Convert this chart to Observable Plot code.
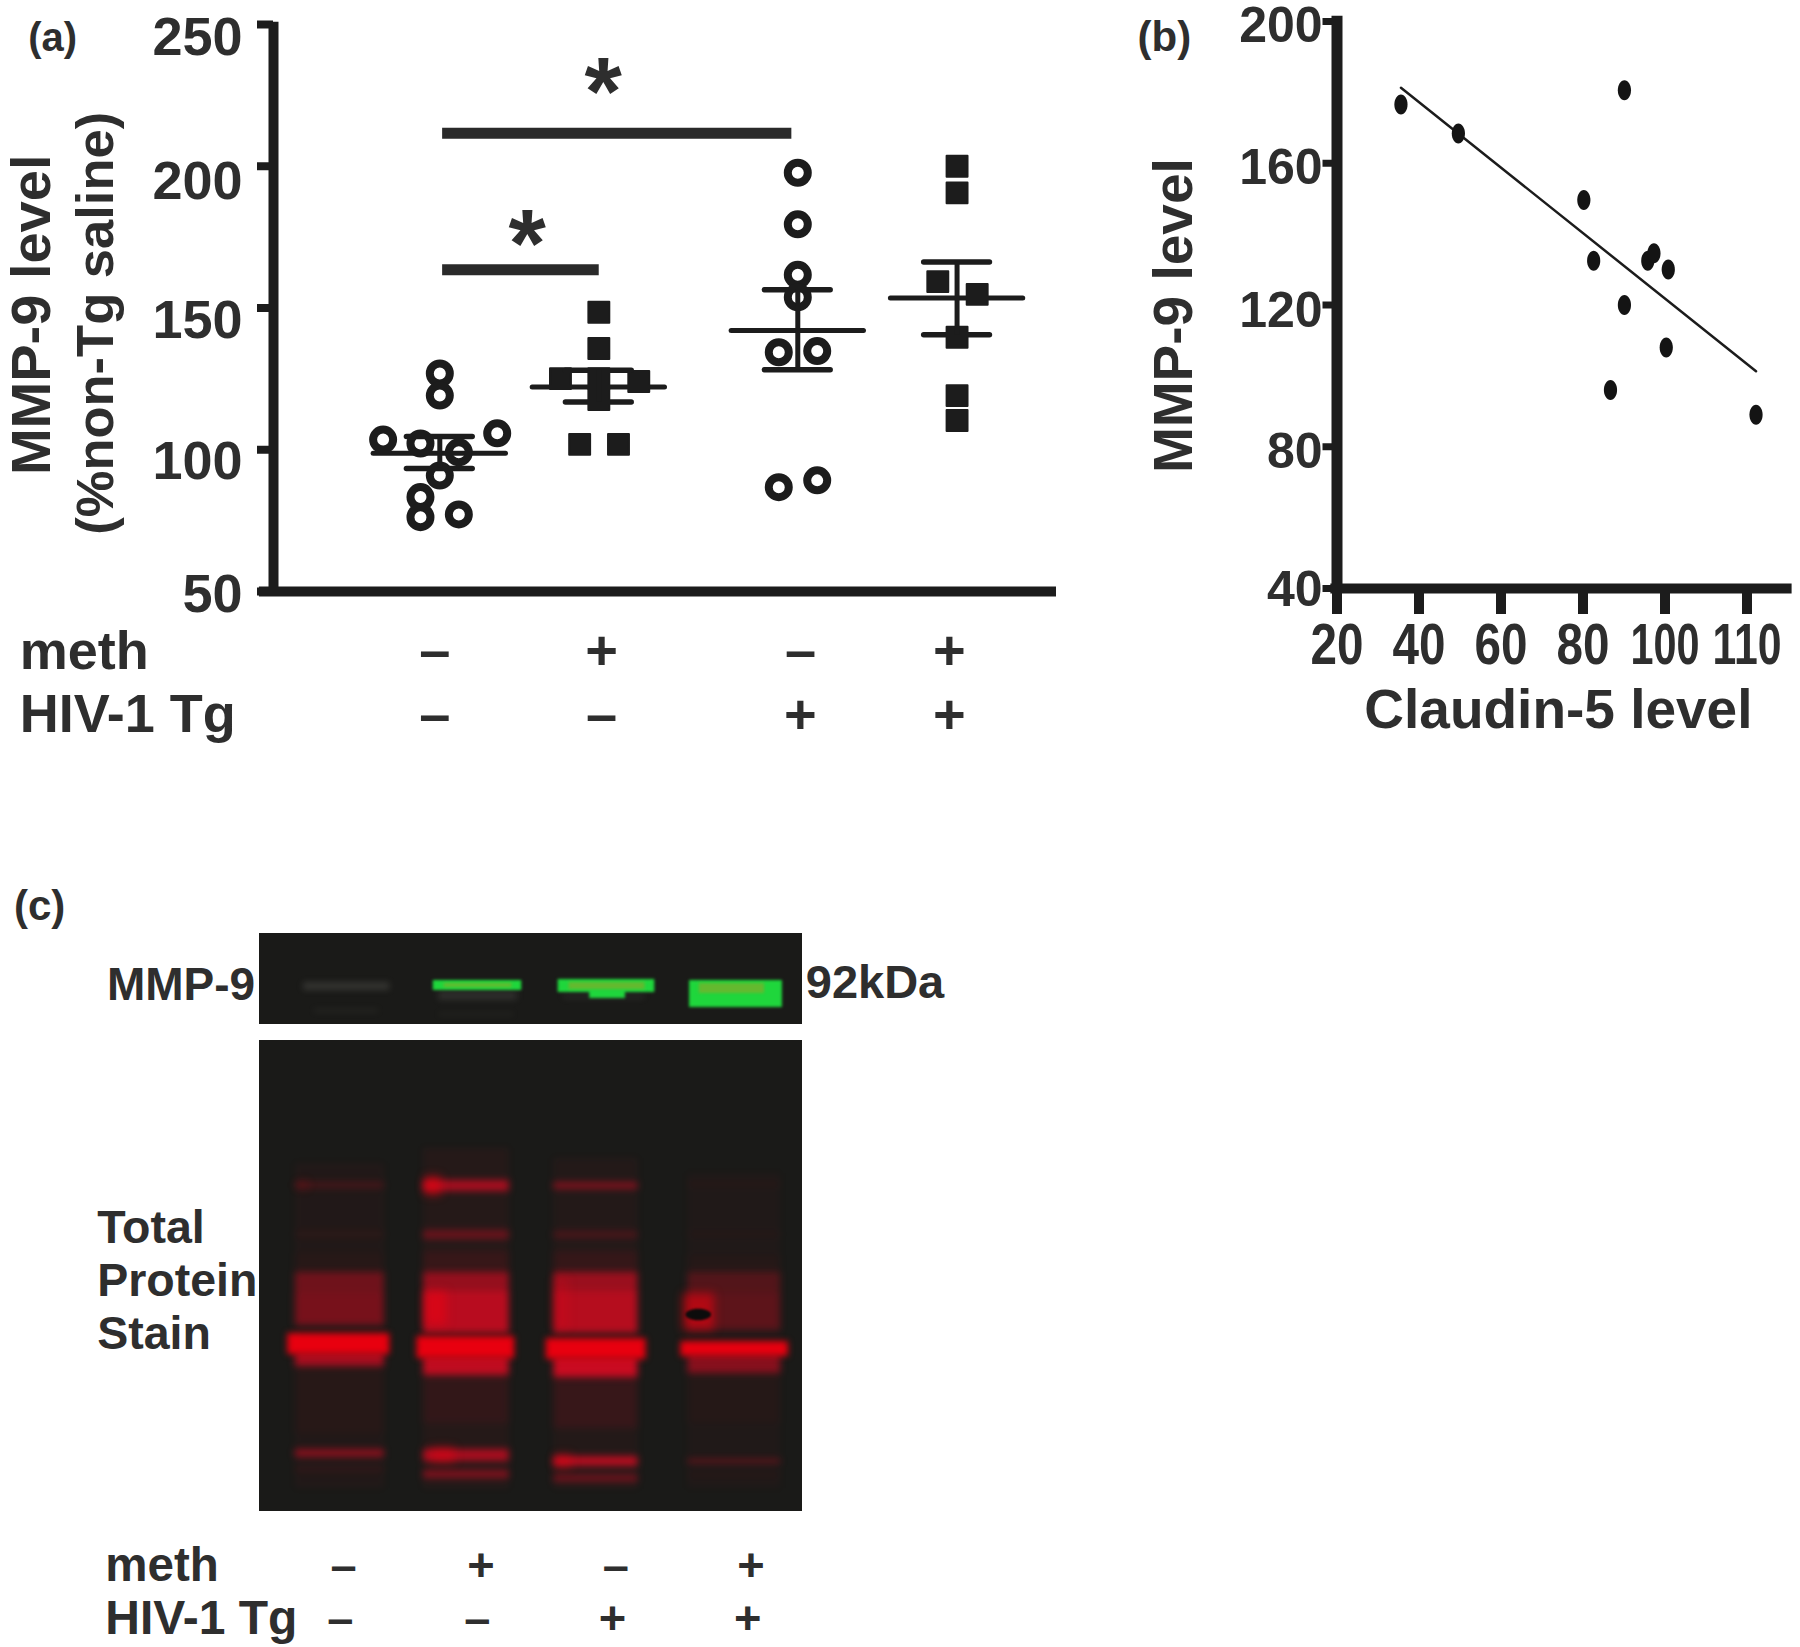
<!DOCTYPE html>
<html><head><meta charset="utf-8">
<script src="https://cdn.jsdelivr.net/npm/d3@7"></script>
<script src="https://cdn.jsdelivr.net/npm/@observablehq/plot@0.6"></script>
<style>
html,body{margin:0;padding:0;background:#fff}
#page{position:relative;width:1800px;height:1647px;overflow:hidden}
#page svg{position:absolute;background:transparent;overflow:visible}
</style></head><body><div id="page"></div>
<script>
// ---- Panel (a) data
const groupCenter = [21.24, 41.55, 66.96, 87.3];
const aNoTgSalineX = [21.24,21.24,14,18.77,28.57,23.67,21.24,18.77,18.77,23.67];
const aNoTgSalineY = [126.9,119.1,103.6,102.2,105.8,99.1,90.9,83.3,76.2,77.2];
const aNoTgMethX = [41.55,41.55,36.65,41.55,46.65,41.55,39.1,44.06];
const aNoTgMethY = [148.5,135.7,125.1,125.1,124.1,117.7,101.9,101.9];
const aTgSalineX = [66.96,66.96,66.96,66.96,64.53,69.44,64.53,69.44];
const aTgSalineY = [197.7,179.5,161.7,153.8,134.4,134.8,86.8,89.2];
const aTgMethX = [87.3,87.3,84.84,89.87,87.3,87.3,87.3];
const aTgMethY = [200,190.6,159.3,154.8,139.7,119.1,110.3];
const aMean = [98.8,122.1,142.1,153.5];
const aUpper = [104.7,128,156.4,166.2];
const aLower = [93.4,116.8,128.2,140.6];
const sigStart = [21.6,21.6];
const sigEnd = [66.2,41.6];
const sigLevel = [211.6,163.5];
const aYTicks = [50,100,150,200,250];
const aYLabelAt = [49,95.9,145.6,194.6,245.3];
const aMethRow = ["–","+","–","+"];
const aTgRow = ["–","–","+","+"];
const aRowX = [20.6,41.9,67.3,86.3];

// ---- Panel (b) data
const bClaudin = [35.6,49.6,90.1,80.2,82.6,90.1,95.8,97.3,100.8,100.3,86.7,122.2];
const bMMP9 = [176.6,168.4,180.6,149.6,132.5,120,132.5,134.6,130,108,96,89];
const bFitX = [35.6,122.2];
const bFitY = [181.3,101.3];
const bXTicks = [20,40,60,80,100,120];
const bXLabels = ["20","40","60","80","100","110"];
const bYTicks = [40,80,120,160,200];
const bYLabelAt = [39.6,78.6,118.4,158.6,198.8];

// ---- Panel (c) data: lanes, band rows, per-lane intensity
const laneStart = [6.6,30.2,54.2,78.9];
const laneEnd = [23,46,69.7,96];
const mainStart = [5.2,29,52.8,77.6];
const mainEnd = [24,47,71.2,97.4];
const mainTop = [400,403,405,408];
const mainBottom = [421,425,426,423];
const bandRows = [
  {top:[230,215,225,240], bottom:[555,555,555,555], level:[.04,.06,.05,.03]},
  {top:[249,247,249,249], bottom:[255,258,256,253], level:[.2,.72,.5,.05]},
  {top:[298,297,298,298], bottom:[304,306,305,304], level:[.06,.38,.22,.03]},
  {top:[320,318,318,322], bottom:[339,339,339,339], level:[.03,.1,.1,.03]},
  {top:[339,339,339,339], bottom:[392,400,400,397], level:[.42,.62,.65,.27]},
  {top:[360,358,358,360], bottom:[392,400,400,397], level:[.08,.5,.42,.08]},
  {top:[418,422,423,420], bottom:[433,442,444,440], level:[.72,.85,.9,.55]},
  {top:[433,442,444,440], bottom:[500,490,495,490], level:[.03,.08,.11,.03]},
  {top:[516,516,523,526], bottom:[524,528,533,530], level:[.55,.72,.8,.38]},
  {top:[534,537,541,540], bottom:[538,545,549,544], level:[.1,.5,.38,.05]}
];
const hotStart = [30.5,30.6,31.5,54.2,78,54.5,7];
const hotEnd = [33.5,34.5,36,57,83.8,57.5,9];
const hotTop = [243,358,514,345,360,521,248];
const hotBottom = [262,392,530,395,397,535,256];
const hotLevel = [.55,.5,.4,.18,.55,.35,.18];
const greenStart = [32,55,79.2,60.8];
const greenEnd = [48.3,72.8,96.3,67.4];
const greenTop = [47,46,47,57];
const greenBottom = [57,59,74,65];
const coreStart = [34,57,81];
const coreEnd = [46.5,71,93];
const coreTop = [50,49,50];
const coreBottom = [54,56,60];
const faintStart = [8.1,33,10,33,56];
const faintEnd = [24,47.5,22,47,71];
const faintTop = [49,58,75,79,60];
const faintBottom = [57,67,80,83,66];
const faintLevel = [.18,.14,.06,.05,.08];
const holeX = [80.8];
const holeY = [381];
const cMethRow = ["–","+","–","+"];
const cTgRow = ["–","–","+","+"];
const cMethX = [15.5,40.8,65.6,90.5];
const cTgX = [14.9,40.1,65.0,89.9];
const frameTop = [0,107];
const frameBottom = [91,578];

// ---- helpers / tables
const zip = (xs, ys) => xs.map((x, i) => ({x, y: ys[i]}));
const ink = "#1c1c1c", txt = "#2e2e2e";
const sans = "'Liberation Sans', Arial, sans-serif";
const circles = [...zip(aNoTgSalineX, aNoTgSalineY), ...zip(aTgSalineX, aTgSalineY)];
const squares = [...zip(aNoTgMethX, aNoTgMethY), ...zip(aTgMethX, aTgMethY)];
const idx = groupCenter.map((c, i) => i);
const place = (el, left, top) => { el.style.left = left + "px"; el.style.top = top + "px"; document.getElementById("page").appendChild(el); };
const base = {fontFamily: sans, fontWeight: "bold", color: txt};
const label = (t, x, y, size, extra = {}) => Plot.text([t], {x: () => x, y: () => y, text: d => d, fontSize: size, fill: txt, fontFamily: sans, fontWeight: "bold", ...extra});
const oval = (wide, tall) => ({
  draw(ctx, size) {
    const r = Math.sqrt(size / Math.PI), ry = r * tall, rx = r * wide, k = 0.5523;
    ctx.moveTo(0, -ry);
    ctx.bezierCurveTo(k * rx, -ry, rx, -k * ry, rx, 0);
    ctx.bezierCurveTo(rx, k * ry, k * rx, ry, 0, ry);
    ctx.bezierCurveTo(-k * rx, ry, -rx, k * ry, -rx, 0);
    ctx.bezierCurveTo(-rx, -k * ry, -k * rx, -ry, 0, -ry);
    ctx.closePath();
  }
});

// ---- Panel (a)
const a = Plot.plot({
  width: 1100, height: 760, marginLeft: 273, marginRight: 44, marginTop: 24, marginBottom: 169,
  x: {domain: [0, 100], axis: null},
  y: {domain: [50, 250], axis: null},
  style: base,
  marks: [
    Plot.axisY(aYTicks, {anchor: "left", tickSize: 16, tickFormat: () => "", strokeWidth: 8, stroke: ink, label: null}),
    Plot.text(aYTicks, {x: () => -3.96, y: (d, i) => aYLabelAt[i], text: d => `${d}`, textAnchor: "end", fontSize: 54, fill: txt, fontFamily: sans, fontWeight: "bold"}),
    Plot.ruleX([0], {y1: 50, y2: 250.8, stroke: ink, strokeWidth: 10}),
    Plot.ruleY([50], {x1: -1.8, x2: 100, stroke: ink, strokeWidth: 10}),
    Plot.dot(circles, {x: "x", y: "y", r: 10, stroke: ink, strokeWidth: 8, fill: "none"}),
    Plot.dot(squares, {x: "x", y: "y", r: 11.8, symbol: "square", fill: ink, stroke: ink, strokeWidth: 2, strokeLinejoin: "round"}),
    Plot.ruleY(idx, {y: i => aMean[i], x1: i => groupCenter[i] - 8.45, x2: i => groupCenter[i] + 8.45, stroke: ink, strokeWidth: 5, strokeLinecap: "round"}),
    Plot.ruleY(idx, {y: i => aUpper[i], x1: i => groupCenter[i] - 4.2, x2: i => groupCenter[i] + 4.2, stroke: ink, strokeWidth: 5.5, strokeLinecap: "round"}),
    Plot.ruleY(idx, {y: i => aLower[i], x1: i => groupCenter[i] - 4.2, x2: i => groupCenter[i] + 4.2, stroke: ink, strokeWidth: 5.5, strokeLinecap: "round"}),
    Plot.ruleX(idx, {x: i => groupCenter[i], y1: i => aLower[i], y2: i => aUpper[i], stroke: ink, strokeWidth: 5}),
    Plot.ruleY([0, 1], {y: i => sigLevel[i], x1: i => sigStart[i], x2: i => sigEnd[i], stroke: "#2a2a2a", strokeWidth: 11}),
    label("*", 32.4, 172, 96, {lineAnchor: "middle"}),
    label("*", 42.1, 225.6, 96, {lineAnchor: "middle"}),
    label("(a)", -28.2, 245, 40),
    label("MMP-9 level", -30.8, 147.6, 56, {rotate: -90}),
    label("(%non-Tg saline)", -22.6, 144.6, 52.5, {rotate: -90}),
    label("meth", -32.4, 28.7, 54, {textAnchor: "start"}),
    label("HIV-1 Tg", -32.4, 6.7, 54, {textAnchor: "start"}),
    Plot.text(aMethRow, {x: (d, i) => aRowX[i], y: () => 28.9, text: d => d, fontSize: 56, fill: txt, fontFamily: sans, fontWeight: "bold"}),
    Plot.text(aTgRow, {x: (d, i) => aRowX[i], y: () => 6.5, text: d => d, fontSize: 56, fill: txt, fontFamily: sans, fontWeight: "bold"})
  ]
});
place(a, 0, 0);

// ---- Panel (b)
const b = Plot.plot({
  width: 670, height: 760, marginLeft: 206.5, marginRight: 53.5, marginTop: 21, marginBottom: 172,
  x: {domain: [20, 120], axis: null},
  y: {domain: [40, 200], axis: null},
  style: base,
  marks: [
    Plot.axisY(bYTicks, {anchor: "left", tickSize: 14, tickFormat: () => "", strokeWidth: 7, stroke: ink, label: null}),
    Plot.text(bYTicks, {x: () => 16.5, y: (d, i) => bYLabelAt[i], text: d => `${d}`, textAnchor: "end", fontSize: 50, fill: txt, fontFamily: sans, fontWeight: "bold"}),
    Plot.axisX(bXTicks, {anchor: "bottom", tickSize: 26, tickPadding: 8, fontSize: 58, strokeWidth: 10, stroke: ink, label: null, fill: txt, fontWeight: "bold", tickFormat: d => bXLabels[bXTicks.indexOf(d)]}),
    Plot.ruleX([20], {y1: 40, y2: 201.5, stroke: ink, strokeWidth: 11}),
    Plot.ruleY([40], {x1: 18.5, x2: 131, stroke: ink, strokeWidth: 10}),
    Plot.line(zip(bFitX, bFitY), {x: "x", y: "y", stroke: ink, strokeWidth: 2.5}),
    Plot.dot(zip(bClaudin, bMMP9), {x: "x", y: "y", r: 10, symbol: oval(0.66, 1), fill: "#141414"}),
    label("(b)", -22.1, 195.5, 42),
    label("MMP-9 level", -19.7, 117, 55, {rotate: -90}),
    label("Claudin-5 level", 74, 5.5, 55)
  ]
});
// the reference squeezes the x tick digits horizontally
d3.select(b).selectAll("text").filter(function() { return bXLabels.includes(this.textContent) && this.parentNode.getAttribute("aria-label") === "x-axis tick label"; })
  .attr("textLength", function() { return this.textContent.length === 2 ? 53 : 69; })
  .attr("lengthAdjust", "spacingAndGlyphs");
place(b, 1130, 0);

// ---- Panel (c): blot drawn as blurred rectangles
const redRows = bandRows.flatMap(r => r.level.map((v, i) => ({x1: laneStart[i], x2: laneEnd[i], y1: r.top[i], y2: r.bottom[i], v})));
const mainRows = idx.map(i => ({x1: mainStart[i], x2: mainEnd[i], y1: mainTop[i], y2: mainBottom[i], v: 1}));
const hotRows = hotStart.map((s, i) => ({x1: s, x2: hotEnd[i], y1: hotTop[i], y2: hotBottom[i], v: hotLevel[i]}));
const greenRows = greenStart.map((s, i) => ({x1: s, x2: greenEnd[i], y1: greenTop[i], y2: greenBottom[i], v: 1}));
const coreRows = coreStart.map((s, i) => ({x1: s, x2: coreEnd[i], y1: coreTop[i], y2: coreBottom[i], v: .9}));
const faintRows = faintStart.map((s, i) => ({x1: s, x2: faintEnd[i], y1: faintTop[i], y2: faintBottom[i], v: faintLevel[i]}));
const rectOf = (rows, fill, blur) => Plot.rect(rows, {x1: "x1", x2: "x2", y1: "y1", y2: "y2", fill, fillOpacity: "v", imageFilter: `blur(${blur}px)`});
const c = Plot.plot({
  width: 1000, height: 767, marginLeft: 259, marginRight: 198, marginTop: 53, marginBottom: 136,
  x: {domain: [0, 100], axis: null},
  y: {domain: [0, 578], reverse: true, axis: null},
  style: base,
  marks: [
    Plot.rect([0, 1], {x1: () => 0, x2: () => 100, y1: i => frameTop[i], y2: i => frameBottom[i], fill: "#1a1a18"}),
    rectOf(faintRows, "#aaaaa0", 3),
    rectOf(greenRows, "#1fd63c", 1.6),
    rectOf(coreRows, "#6cb62e", 1.8),
    rectOf(redRows, "#dc0a22", 3.5),
    rectOf(hotRows, "#f5000f", 5),
    rectOf(mainRows, "#e8000f", 3),
    Plot.dot(holeX.map((x, i) => ({x, y: holeY[i]})), {x: "x", y: "y", r: 8, symbol: oval(1.6, .72), fill: "#0c0c0c", imageFilter: "blur(1.2px)"}),
    label("MMP-9", -0.8, 52, 46, {textAnchor: "end"}),
    label("92kDa", 100.6, 49, 47, {textAnchor: "start"}),
    label("Total", -29.9, 295, 46.5, {textAnchor: "start"}),
    label("Protein", -29.9, 348, 46.5, {textAnchor: "start"}),
    label("Stain", -29.9, 401, 46.5, {textAnchor: "start"}),
    label("meth", -28.4, 632, 47.5, {textAnchor: "start"}),
    label("HIV-1 Tg", -28.4, 685, 48, {textAnchor: "start"}),
    Plot.text(cMethRow, {x: (d, i) => cMethX[i], y: () => 632, text: d => d, fontSize: 47, fill: txt, fontFamily: sans, fontWeight: "bold"}),
    Plot.text(cTgRow, {x: (d, i) => cTgX[i], y: () => 685, text: d => d, fontSize: 47, fill: txt, fontFamily: sans, fontWeight: "bold"}),
    label("(c)", -40.5, -27, 42)
  ]
});
place(c, 0, 880);
</script></body></html>
